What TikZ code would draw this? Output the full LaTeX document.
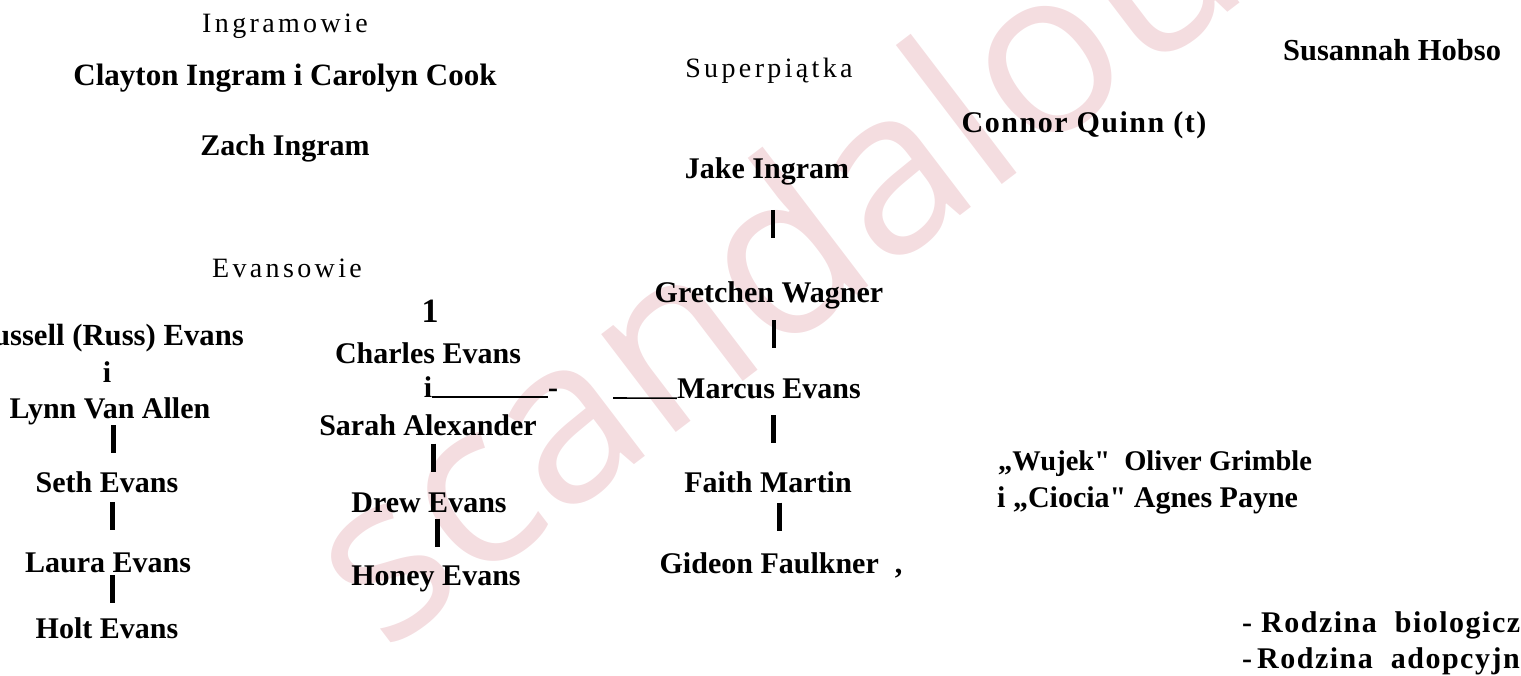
\documentclass[tikz,border=0pt]{standalone}
\usepackage{fontspec}
\setmainfont{Liberation Serif}
\newfontfamily\widefont{Liberation Serif}[LetterSpace=5]
\newfontfamily\headfont{Liberation Serif}[LetterSpace=12]
\newfontfamily\markfont{Open Sans}
\usetikzlibrary{calc}
\definecolor{markpink}{RGB}{244,221,224}
\tikzset{
    person/.style={font=\bfseries\fontsize{30}{32}\selectfont, inner sep=0pt, text height=20pt, text depth=0pt},
    wideperson/.style={font=\widefont\bfseries\fontsize{30}{32}\selectfont, inner sep=0pt, text height=20pt, text depth=0pt},
    family/.style={font=\headfont\fontsize{28}{30}\selectfont, inner sep=0pt, text height=18pt, text depth=0pt},
    bar/.style={line width=4.5pt, to path={($(\tikztostart)!0.5!(\tikztotarget)+(5,-20)$) -- ++(0,28)}},
    uline/.style={line width=1.6pt},
    watermark/.style={font=\markfont\fontsize{230}{230}\selectfont, text=markpink, inner sep=0pt},
}

\begin{document}
\begin{tikzpicture}[x=1pt,y=-1pt]
    \useasboundingbox (0,0) rectangle (1521,675);
    \clip (0,0) rectangle (1521,675);
    \node[watermark, rotate=37.3, anchor=base west] (wm) at (384,655) {scandalous};

    \node[family] (ingramowie) at (285,23) {Ingramowie};
    \node[person, font=\bfseries\fontsize{31}{32}\selectfont] (clayton) at (285,75) {Clayton Ingram i Carolyn Cook};
    \node[person] (zach) at (285,145) {Zach Ingram};

    \node[family] (superpiatka) at (769,68) {Superpiątka};
    \node[person] (jake) at (767,168) {Jake Ingram};
    \node[person] (gretchen) at (769,292) {Gretchen Wagner};
    \node[person] (marcus) at (769,388) {Marcus Evans};
    \node[person] (faith) at (768,482) {Faith Martin};
    \node[person] (gideon) at (781,563) {Gideon Faulkner\hspace{16pt},};
    \draw[bar] (jake) to (gretchen);
    \draw[bar] (gretchen) to (marcus);
    \draw[bar] (marcus) to (faith);
    \draw[bar] (faith) to (gideon);

    \node[family] (evansowie) at (287,268) {Evansowie};
    \node[person, font=\bfseries\fontsize{30.7}{32}\selectfont, anchor=east] (russ) at (244,335) {Russell (Russ) Evans};
    \node[person] (andRL) at (107,372) {i};
    \node[person] (lynn) at (110,408) {Lynn Van Allen};
    \node[person] (seth) at (107,482) {Seth Evans};
    \node[person] (laura) at (108,562) {Laura Evans};
    \node[person] (holt) at (107,628) {Holt Evans};
    \draw[bar] (lynn) to (seth);
    \draw[bar] (seth) to (laura);
    \draw[bar] (laura) to (holt);

    \node[person, font=\bfseries\fontsize{34}{36}\selectfont] (one) at (430,312) {1};
    \node[person] (charles) at (428,353) {Charles Evans};
    \node[person] (andCS) at (428,387) {i};
    \node[person] (dashCS) at (553,387) {-};
    \node[person] (sarah) at (428,425) {Sarah Alexander};
    \node[person] (drew) at (429,502) {Drew Evans};
    \node[person] (honey) at (436,575) {Honey Evans};
    \draw[bar] (sarah) to (drew);
    \draw[bar] (drew) to (honey);
    \draw[uline] (andCS.south east) -- (dashCS.south west);
    \coordinate (linkM) at (613,398);
    \draw[uline] (linkM) -- (marcus.south west);

    \node[person, font=\bfseries\fontsize{30.5}{32}\selectfont, anchor=west] (susannah) at (1283,50) {Susannah Hobso};
    \node[wideperson] (connor) at (1084,122) {Connor Quinn (t)};
    \node[person, font=\bfseries\fontsize{28.5}{30}\selectfont, anchor=west] (wujek) at (998,460) {„Wujek\textquotedbl\ \ Oliver Grimble};
    \node[person, anchor=west] (ciocia) at (997,497) {i „Ciocia\textquotedbl\ Agnes Payne};
    \node[wideperson, anchor=west] (bio) at (1242,622) {- Rodzina\ \ biologiczna};
    \node[wideperson, anchor=west] (adop) at (1242,658) {-\,Rodzina\ \ adopcyjna};
\end{tikzpicture}
\end{document}
